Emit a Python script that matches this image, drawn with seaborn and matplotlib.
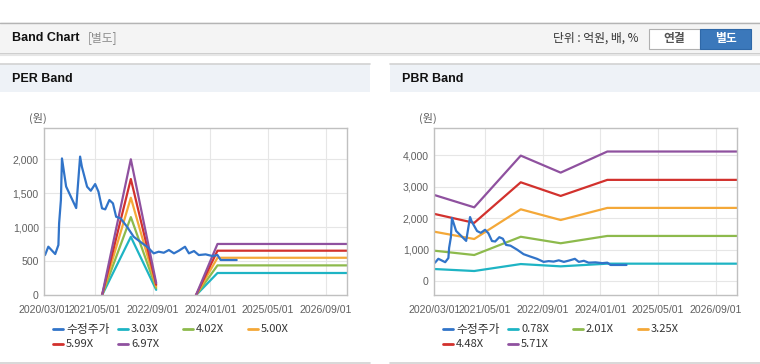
import pandas as pd
import seaborn as sns
import matplotlib.pyplot as plt
import matplotlib.dates as mdates
import matplotlib.transforms as mtransforms
from matplotlib.patches import Rectangle
from matplotlib.lines import Line2D
from matplotlib.ticker import FuncFormatter

sns.set_theme(style="whitegrid")
plt.rcParams['font.family'] = ['Liberation Sans', 'Noto Sans CJK KR', 'DejaVu Sans']
KR = ['Noto Sans CJK KR', 'DejaVu Sans']

# --------------------------------------
# data
# --------------------------------------
price_dates = ["2020-03-07", "2020-04-04", "2020-06-01", "2020-06-28", "2020-07-04",
               "2020-07-19", "2020-07-28", "2020-09-01", "2020-11-25", "2020-12-28",
               "2021-01-12", "2021-02-25", "2021-03-28", "2021-05-04", "2021-06-01",
               "2021-07-01", "2021-07-28", "2021-09-01", "2021-10-01", "2021-10-28",
               "2021-12-04", "2022-01-28", "2022-03-25", "2022-05-19", "2022-07-16",
               "2022-09-10", "2022-10-22", "2022-12-04", "2023-01-16", "2023-02-28",
               "2023-04-10", "2023-06-01", "2023-07-04", "2023-08-16", "2023-09-25",
               "2023-11-22", "2024-01-19", "2024-03-01", "2024-03-28", "2024-08-10"]
price_values = [592, 715, 607, 740, 1060, 1400, 2013, 1600, 1283, 2040,
                1890, 1597, 1538, 1636, 1523, 1279, 1264, 1401, 1352, 1155,
                1132, 1008, 861, 788, 714, 617, 641, 626, 666, 617,
                656, 714, 617, 651, 592, 602, 577, 592, 519, 519]

per_labels = ["3.03X", "4.02X", "5.00X", "5.99X", "6.97X"]
per_dates_a = ["2021-07-01", "2022-03-01", "2022-10-01"]
per_dates_b = ["2023-09-01", "2024-03-01", "2027-03-01"]
per_band_a = {
    "3.03X": [0, 860, 80],
    "4.02X": [0, 1150, 105],
    "5.00X": [0, 1435, 130],
    "5.99X": [0, 1710, 155],
    "6.97X": [0, 2000, 180],
}
per_band_b = {
    "3.03X": [0, 328, 328],
    "4.02X": [0, 440, 440],
    "5.00X": [0, 552, 552],
    "5.99X": [0, 656, 656],
    "6.97X": [0, 755, 755],
}

pbr_labels = ["0.78X", "2.01X", "3.25X", "4.48X", "5.71X"]
pbr_dates = ["2020-03-01", "2021-02-01", "2022-03-01", "2023-02-01", "2024-03-01", "2027-03-01"]
pbr_band = {
    "0.78X": [390, 327, 548, 475, 560, 560],
    "2.01X": [972, 835, 1414, 1208, 1440, 1440],
    "3.25X": [1575, 1343, 2286, 1946, 2330, 2330],
    "4.48X": [2140, 1855, 3143, 2710, 3220, 3220],
    "5.71X": [2740, 2348, 3990, 3450, 4120, 4120],
}

x_ticks = ["2020/03/01", "2021/05/01", "2022/09/01", "2024/01/01", "2025/05/01", "2026/09/01"]

price_color = "#3174c9"
band_colors = ["#1eb4c4", "#8dba4c", "#f4a838", "#d2312d", "#8f519f"]

# --------------------------------------
# figure + page decoration (pixel coords, origin top-left)
# --------------------------------------
W, H = 760, 364
fig = plt.figure(figsize=(W / 100, H / 100), dpi=100)
T = mtransforms.Affine2D().scale(1 / W, -1 / H).translate(0, 1) + fig.transFigure


def box(x, y, w, h, fc, ec="none", lw=0):
    fig.patches.append(Rectangle((x, y), w, h, transform=T, facecolor=fc,
                                 edgecolor=ec, linewidth=lw, zorder=0))


def hline(x0, x1, y, color, lw=1):
    fig.add_artist(Line2D([x0, x1], [y, y], transform=T, color=color, lw=lw))


# top header band
box(0, 22, W, 31, "#f4f4f4")
hline(0, W, 22.5, "#b4b4b4")
hline(0, W, 53.5, "#c4c4c4", 1.2)
hline(0, W, 55, "#e6e6e6", 1.5)
fig.text(12, 38, "Band Chart", transform=T, fontsize=9, fontweight="bold",
         va="center", color="#111111")
fig.text(88, 38, "[별도]", transform=T, fontsize=8.5, family=KR, va="center",
         color="#8c8c8c")
fig.text(553, 38, "단위 : 억원, 배, %", transform=T, fontsize=8.5, family=KR,
         va="center", color="#333333")
box(648.5, 28.5, 51.5, 20, "white", "#b0b0b0", 0.8)
box(700, 28.5, 51, 20, "#3b78bb", "#2f68a8", 0.8)
fig.text(674, 38.5, "연결", transform=T, fontsize=8.5, family=KR, fontweight="bold",
         va="center", ha="center", color="#555555")
fig.text(725.5, 38.5, "별도", transform=T, fontsize=8.5, family=KR, fontweight="bold",
         va="center", ha="center", color="white")

# panel headers + bottom lines
for x0, x1, title in [(0, 370, "PER Band"), (390, 760, "PBR Band")]:
    box(x0, 64, x1 - x0, 28, "#eef2f7")
    hline(x0, x1, 64, "#d2d2d2", 1.2)
    hline(x0, x1, 362.5, "#d2d2d2", 1.2)
    fig.text(x0 + 12, 79, title, transform=T, fontsize=9, fontweight="bold",
             va="center", color="#111111")


def make_axes(left, right, top, bottom):
    return fig.add_axes([left / W, (H - bottom) / H, (right - left) / W, (bottom - top) / H])


def style_axes(ax, ymin, ymax, yticks):
    ax.set_facecolor("white")
    ax.set_xlim(pd.Timestamp("2020-03-01"), pd.Timestamp("2027-03-01"))
    ax.set_ylim(ymin, ymax)
    ax.set_yticks(yticks)
    ax.set_xticks(pd.to_datetime(x_ticks))
    ax.xaxis.set_major_formatter(mdates.DateFormatter("%Y/%m/%d"))
    ax.yaxis.set_major_formatter(FuncFormatter(lambda v, p: f"{int(v):,}"))
    ax.grid(True, color="#e6e6e6", lw=0.8)
    for s in ax.spines.values():
        s.set_visible(True)
        s.set_color("#c0c0c0")
        s.set_linewidth(1)
    ax.tick_params(axis="x", length=4, width=0.8, color="#c0c0c0", pad=3,
                   labelsize=7.6, labelcolor="#606060")
    ax.tick_params(axis="y", length=0, pad=4, labelsize=7.6, labelcolor="#606060")
    ax.set_xlabel("")
    ax.set_ylabel("")


def draw(ax, dates, values, color):
    sns.lineplot(x=pd.to_datetime(dates), y=values, ax=ax, color=color, lw=1.6,
                 estimator=None, legend=False)


# --------------------------------------
# PER Band
# --------------------------------------
ax1 = make_axes(44.3, 347.3, 128.3, 295.3)
for lab, c in zip(per_labels, band_colors):
    draw(ax1, per_dates_a, per_band_a[lab], c)
    draw(ax1, per_dates_b, per_band_b[lab], c)
draw(ax1, price_dates, price_values, price_color)
style_axes(ax1, 0, 2456, [0, 500, 1000, 1500, 2000])

# --------------------------------------
# PBR Band
# --------------------------------------
ax2 = make_axes(434.3, 737, 128.3, 295.3)
for lab, c in zip(pbr_labels, band_colors):
    draw(ax2, pbr_dates, pbr_band[lab], c)
draw(ax2, price_dates, price_values, price_color)
style_axes(ax2, -444, 4857, [0, 1000, 2000, 3000, 4000])

# unit labels
fig.text(29, 118, "(원)", transform=T, fontsize=8, family=KR, va="center", color="#606060")
fig.text(419, 118, "(원)", transform=T, fontsize=8, family=KR, va="center", color="#606060")

# --------------------------------------
# legends (Highcharts style, fixed item width)
# --------------------------------------
def legend(x0, labels):
    names = ["수정주가"] + labels
    colors = [price_color] + band_colors
    for i, (n, c) in enumerate(zip(names, colors)):
        row, col = divmod(i, 4)
        x = x0 + col * 65
        y = 329 + row * 15
        fig.add_artist(Line2D([x, x + 10], [y, y], transform=T, color=c, lw=2))
        fig.text(x + 13, y, n, transform=T, fontsize=8.5 if i == 0 else 8, family=KR,
                 va="center", color="#333333")


legend(53, per_labels)
legend(443, pbr_labels)

plt.savefig("out.png", dpi=100)
plt.close()
